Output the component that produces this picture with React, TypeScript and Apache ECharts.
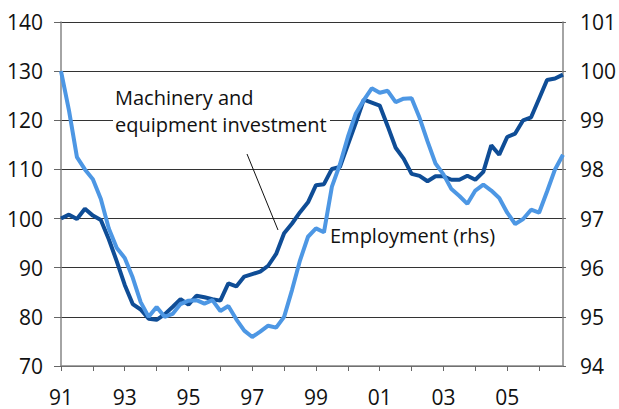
import React, { useEffect, useRef } from "react";
import * as echarts from "echarts";

// Quarterly data, 1991Q1 – 2006Q4
const startYear = 1991;
const quarterCount = 64;

const xTickLabels = ["91", "93", "95", "97", "99", "01", "03", "05"];

// Machinery and equipment investment (lhs, index)
const machinery = [
  100, 100.8, 99.9, 102, 100.6, 99.7, 95.8, 91.3,
  86.5, 82.6, 81.5, 79.6, 79.4, 80.5, 82, 83.6,
  82.5, 84.3, 84, 83.6, 83.3, 86.8, 86.2, 88.2,
  88.7, 89.2, 90.4, 92.8, 97, 99, 101.3, 103.3,
  106.8, 107, 110.1, 110.5, 115, 119.5, 124.2, 123.6,
  123, 118.8, 114.4, 112.2, 109.1, 108.7, 107.6, 108.6,
  108.6, 107.9, 107.9, 108.7, 107.9, 109.5, 114.9, 113,
  116.6, 117.3, 120, 120.6, 124.4, 128.2, 128.5, 129.3,
];

// Employment (rhs)
const employment = [
  100.0, 99.2, 98.25, 98.0, 97.8, 97.4, 96.8, 96.4,
  96.2, 95.8, 95.3, 95.0, 95.2, 95.0, 95.06, 95.26,
  95.33, 95.34, 95.27, 95.34, 95.12, 95.22, 94.95, 94.72,
  94.59, 94.7, 94.82, 94.78, 95.0, 95.55, 96.15, 96.63,
  96.8, 96.72, 97.65, 98.1, 98.66, 99.14, 99.41, 99.65,
  99.56, 99.6, 99.37, 99.44, 99.45, 99.05, 98.57, 98.12,
  97.9, 97.6, 97.46, 97.3, 97.57, 97.69, 97.57, 97.42,
  97.12, 96.89, 96.99, 97.18, 97.12, 97.55, 98.0, 98.3,
];

const categories: string[] = [];
for (let i = 0; i < quarterCount; i++) {
  const y = startYear + Math.floor(i / 4);
  categories.push(String(y).slice(2) + " Q" + ((i % 4) + 1));
}

const darkBlue = "#0f4d96";
const lightBlue = "#4d97e4";
const FONT = "'Open Sans', 'Noto Sans', sans-serif";

export default function App() {
  const ref = useRef<HTMLDivElement>(null);
  useEffect(() => {
    if (!ref.current) return;
    const chart = echarts.init(ref.current, null, { renderer: "svg" });
    chart.setOption({
      animation: false,
      backgroundColor: "#ffffff",
      textStyle: { fontFamily: FONT },
      grid: { left: 61, right: 54, top: 22, bottom: 43, containLabel: false },
      xAxis: {
        type: "category",
        data: categories,
        boundaryGap: false,
        axisLine: { show: true, lineStyle: { color: "#868686", width: 1.5 } },
        axisTick: {
          show: true,
          length: 5,
          interval: (index: number) => index % 4 === 0,
          lineStyle: { color: "#666" },
        },
        axisLabel: {
          interval: (index: number) => index % 8 === 0,
          formatter: (v: string) => {
            const s = v.slice(0, 2);
            return xTickLabels.includes(s) ? s : "";
          },
          margin: 20,
          fontSize: 21,
          color: "#111",
          fontFamily: FONT,
        },
        splitLine: { show: false },
      },
      yAxis: [
        {
          type: "value",
          min: 70,
          max: 140,
          interval: 10,
          axisLine: { show: true, lineStyle: { color: "#868686", width: 1.5 } },
          axisTick: { show: true, length: 7, lineStyle: { color: "#666" } },
          axisLabel: { margin: 18, fontSize: 21, color: "#111", fontFamily: FONT },
          splitLine: { show: true, lineStyle: { color: "#333", width: 1 } },
        },
        {
          type: "value",
          min: 94,
          max: 101,
          interval: 1,
          position: "right",
          axisLine: { show: true, lineStyle: { color: "#868686", width: 1.5 } },
          axisTick: { show: true, length: 3, lineStyle: { color: "#666" } },
          axisLabel: { margin: 17, fontSize: 21, color: "#111", fontFamily: FONT },
          splitLine: { show: false },
        },
      ],
      series: [
        {
          name: "Machinery and equipment investment",
          type: "line",
          yAxisIndex: 0,
          data: machinery,
          symbol: "none",
          lineStyle: { color: darkBlue, width: 4 },
          z: 3,
        },
        {
          name: "Employment (rhs)",
          type: "line",
          yAxisIndex: 1,
          data: employment,
          symbol: "none",
          lineStyle: { color: lightBlue, width: 4 },
          z: 4,
        },
      ],
      graphic: {
        elements: [
          {
            type: "rect",
            z: 1,
            shape: { x: 113, y: 84, width: 217, height: 56 },
            style: { fill: "#ffffff" },
          },
          {
            type: "text",
            z: 5,
            x: 115,
            y: 84,
            style: {
              text: "Machinery and\nequipment investment",
              font: "20px " + FONT,
              fill: "#111",
              lineHeight: 27,
              textAlign: "left",
              textVerticalAlign: "top",
            },
          },
          {
            type: "line",
            z: 5,
            shape: { x1: 247, y1: 154, x2: 278, y2: 230 },
            style: { stroke: "#111", lineWidth: 1 },
          },
          {
            type: "text",
            z: 5,
            x: 330,
            y: 225,
            style: {
              text: "Employment (rhs)",
              font: "20px " + FONT,
              fill: "#111",
              textAlign: "left",
              textVerticalAlign: "top",
            },
          },
        ],
      },
    });
    return () => chart.dispose();
  }, []);
  return (
    <div
      ref={ref}
      style={{ position: "fixed", left: 0, top: 0, width: 619, height: 409 }}
    />
  );
}
